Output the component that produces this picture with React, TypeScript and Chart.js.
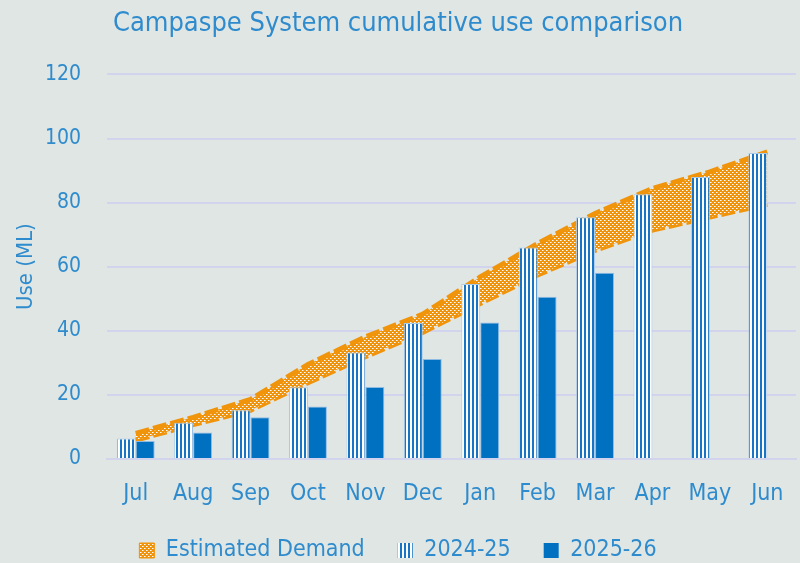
import React, { useEffect, useRef } from 'react';
import { Chart, registerables } from 'chart.js';

Chart.register(...registerables);

const months = ['Jul', 'Aug', 'Sep', 'Oct', 'Nov', 'Dec', 'Jan', 'Feb', 'Mar', 'Apr', 'May', 'Jun'];
const use2024 = [6.4, 11.3, 15.2, 22.4, 33.2, 42.4, 54.6, 66.0, 75.4, 82.6, 88.0, 95.5];
const use2025 = [5.6, 8.3, 13.0, 16.4, 22.5, 31.2, 42.6, 50.6, 58.1, null, null, null];
const demandLow = [5.9, 10.7, 15.2, 23.8, 31.9, 39.5, 48.5, 57.4, 65.1, 71.4, 75.5, 79.5];
const demandHigh = [8.0, 13.0, 18.6, 29.5, 38.1, 45.2, 56.8, 67.2, 76.6, 84.4, 89.6, 95.8];
const yTicks = [0, 20, 40, 60, 80, 100, 120];

const FONT = "'Liberation Sans Narrow', 'DejaVu Sans Condensed', Roboto, sans-serif";
const TEXT = '#2E8BCD';
const ORANGE = '#F0940C';
const BLUE = '#0070C0';
const BG = '#E0E6E4';

function makeBandPattern(ctx: CanvasRenderingContext2D) {
  const c = document.createElement('canvas');
  c.width = 4;
  c.height = 4;
  const g = c.getContext('2d')!;
  g.fillStyle = ORANGE;
  g.fillRect(0, 0, 4, 4);
  g.fillStyle = '#FFFFFF';
  g.fillRect(0, 0, 1, 1);
  g.fillRect(2, 2, 1, 1);
  g.fillStyle = '#F9CF8E';
  g.fillRect(1, 0, 1, 1);
  g.fillRect(3, 2, 1, 1);
  return ctx.createPattern(c, 'repeat')!;
}

function makeStripePattern(ctx: CanvasRenderingContext2D) {
  const c = document.createElement('canvas');
  c.width = 4;
  c.height = 1;
  const g = c.getContext('2d')!;
  g.fillStyle = '#FFFFFF';
  g.fillRect(0, 0, 4, 1);
  g.fillStyle = '#1874C4';
  g.fillRect(0, 0, 2, 1);
  return ctx.createPattern(c, 'repeat')!;
}

export default function App() {
  const ref = useRef<HTMLCanvasElement | null>(null);

  useEffect(() => {
    document.body.style.margin = '0';
    const canvas = ref.current!;
    const ctx = canvas.getContext('2d')!;
    const band = makeBandPattern(ctx);
    const stripes = makeStripePattern(ctx);

    const chart = new Chart(ctx, {
      type: 'bar',
      data: {
        labels: months,
        datasets: [
          {
            type: 'line',
            label: 'lower',
            data: demandLow,
            borderColor: ORANGE,
            borderWidth: 5,
            borderDash: [14, 4],
            pointRadius: 0,
            fill: false,
            tension: 0,
            order: 3,
          } as any,
          {
            type: 'line',
            label: 'Estimated Demand',
            data: demandHigh,
            borderColor: ORANGE,
            borderWidth: 5,
            borderDash: [14, 4],
            backgroundColor: band,
            pointRadius: 0,
            fill: '-1',
            tension: 0,
            order: 2,
          } as any,
          {
            label: '2024-25',
            data: use2024,
            backgroundColor: stripes,
            borderColor: '#A9CBEA',
            borderWidth: 1,
            categoryPercentage: 0.66,
            barPercentage: 1,
            order: 0,
          },
          {
            label: '2025-26',
            data: use2025,
            backgroundColor: BLUE,
            borderColor: '#8FBBE3',
            borderWidth: 1,
            categoryPercentage: 0.66,
            barPercentage: 1,
            order: 1,
          },
        ],
      },
      options: {
        animation: false,
        responsive: false,
        layout: { padding: { left: 0, right: 4, top: 4, bottom: 0 } },
        plugins: {
          title: {
            display: true,
            text: 'Campaspe System cumulative use comparison',
            color: TEXT,
            font: { family: FONT, size: 27, weight: 'normal' },
            padding: { top: 4, bottom: 34 },
          },
          legend: {
            position: 'bottom',
            maxHeight: 57,
            labels: {
              color: TEXT,
              font: { family: FONT, size: 23 },
              boxWidth: 15,
              boxHeight: 15,
              padding: 33,
              generateLabels: () => [
                { text: 'Estimated Demand', fillStyle: band, strokeStyle: ORANGE, lineWidth: 1, datasetIndex: 1, fontColor: TEXT, hidden: false } as any,
                { text: '2024-25', fillStyle: stripes, strokeStyle: 'rgba(0,0,0,0)', lineWidth: 0, datasetIndex: 2, fontColor: TEXT, hidden: false } as any,
                { text: '2025-26', fillStyle: BLUE, strokeStyle: 'rgba(0,0,0,0)', lineWidth: 0, datasetIndex: 3, fontColor: TEXT, hidden: false } as any,
              ],
            },
          },
          tooltip: { enabled: false },
        },
        scales: {
          x: {
            offset: true,
            grid: { display: false, drawTicks: false },
            border: { display: true, color: '#D2D4EE', width: 2 },
            ticks: { color: TEXT, font: { family: FONT, size: 23 }, padding: 21 },
            afterFit: (scale: any) => {
              scale.height = 47;
              scale.paddingLeft = 0;
              scale.paddingRight = 0;
            },
          },
          y: {
            min: 0,
            max: 120,
            afterBuildTicks: (axis: any) => {
              axis.ticks = yTicks.map((v) => ({ value: v }));
            },
            afterFit: (scale: any) => {
              scale.width = 107;
            },
            grid: { color: '#D2D4EE', lineWidth: 2, drawTicks: false },
            border: { display: false },
            ticks: { color: TEXT, font: { family: FONT, size: 21 }, padding: 26 },
            title: {
              display: true,
              text: 'Use (ML)',
              color: TEXT,
              font: { family: FONT, size: 22 },
              padding: { top: 13, bottom: 10 },
            },
          },
        },
      },
    });
    return () => chart.destroy();
  }, []);

  return (
    <div style={{ width: 800, height: 563, background: BG }}>
      <canvas ref={ref} width={800} height={563} style={{ display: 'block' }} />
    </div>
  );
}
